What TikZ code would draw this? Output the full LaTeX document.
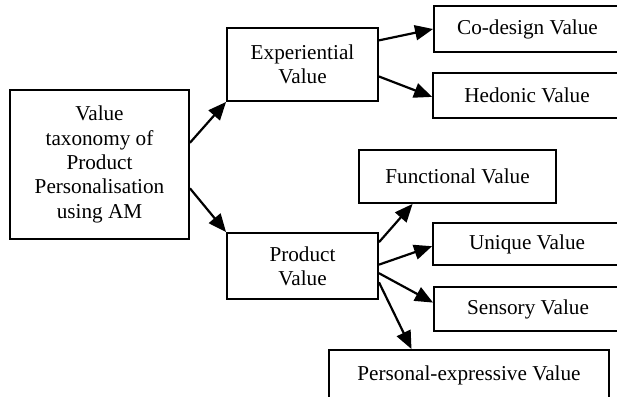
\documentclass[tikz,border=0pt]{standalone}
\usepackage{fontspec}
\setmainfont{Liberation Serif}
\usetikzlibrary{arrows.meta,calc}
\begin{document}
\begin{tikzpicture}[x=1pt,y=-1pt,
  box/.style={draw, line width=1.9pt, inner sep=0pt, align=center,
    font=\fontsize{21.2}{24.3}\selectfont},
  arr/.style={line width=2.2pt, -{Triangle[length=18pt,width=15pt]}}]
\clip (0,0) rectangle (617,396);
\node[box, minimum width=179pt, minimum height=149pt] (root) at (99.5,164.5)
  {Value\\taxonomy of\\Product\\Personalisation\\using AM};
\node[box, minimum width=151pt, minimum height=73pt] (exp) at (302.5,64.5)
  {Experiential\\Value};
\node[box, minimum width=187pt, minimum height=46pt] (cod) at (527.5,29)
  {Co-design Value};
\node[box, minimum width=188pt, minimum height=45pt] (hed) at (527,95.5)
  {Hedonic Value};
\node[box, minimum width=197pt, minimum height=53pt] (fun) at (457.5,176.5)
  {Functional Value};
\node[box, minimum width=151pt, minimum height=66pt] (prod) at (302.5,266)
  {Product\\Value};
\node[box, minimum width=188pt, minimum height=42pt] (uni) at (527,244)
  {Unique Value};
\node[box, minimum width=188pt, minimum height=44pt] (sen) at (528,309)
  {Sensory Value};
\node[box, minimum width=280pt, minimum height=50pt] (per) at (469,375)
  {Personal-expressive Value};
\draw[arr] ($(root.north east)!0.356!(root.south east)$) -- (exp.south west);
\draw[arr] ($(root.north east)!0.658!(root.south east)$) -- (prod.north west);
\draw[arr] ($(exp.north east)!0.178!(exp.south east)$) -- (cod.west);
\draw[arr] ($(exp.north east)!0.66!(exp.south east)$) -- ($(hed.north west)!0.53!(hed.south west)$);
\draw[arr] ($(prod.north east)!0.15!(prod.south east)$) -- ($(fun.south west)!0.274!(fun.south east)$);
\draw[arr] ($(prod.north east)!0.48!(prod.south east)$) -- ($(uni.north west)!0.55!(uni.south west)$);
\draw[arr] ($(prod.north east)!0.606!(prod.south east)$) -- ($(sen.north west)!0.36!(sen.south west)$);
\draw[arr] ($(prod.north east)!0.74!(prod.south east)$) -- ($(per.north west)!0.296!(per.north east)$);
\end{tikzpicture}
\end{document}
